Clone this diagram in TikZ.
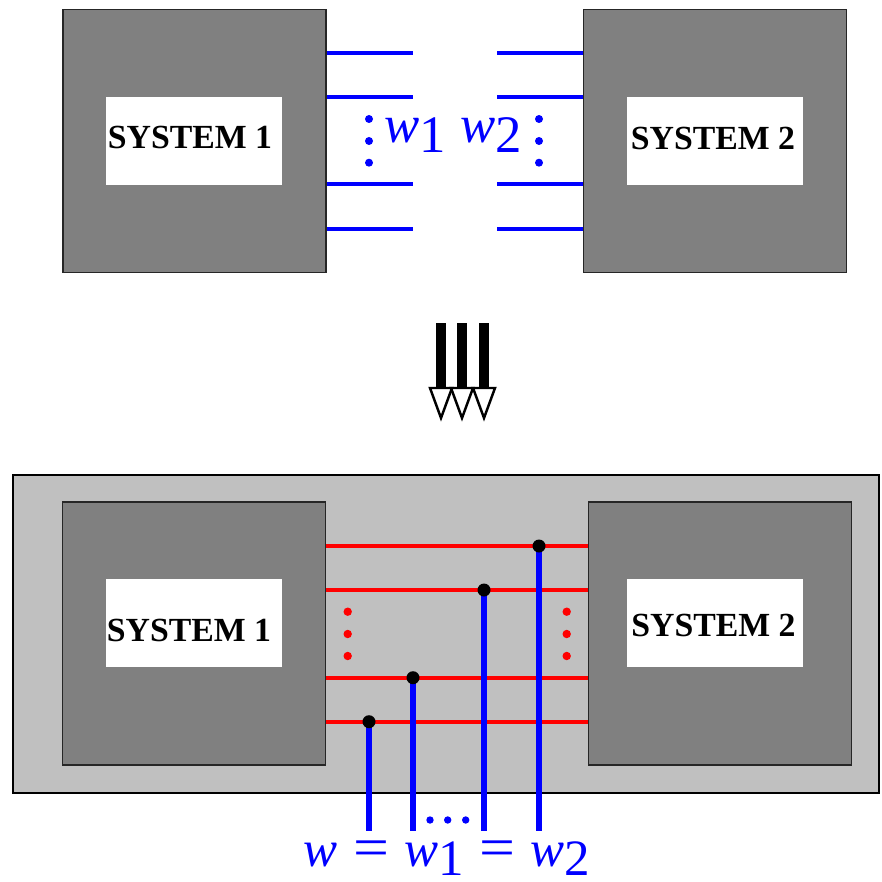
\documentclass[tikz,border=0pt]{standalone}
\usepackage{fontspec}
\setmainfont{Liberation Serif}
\usetikzlibrary{positioning,calc}
\definecolor{boxgray}{HTML}{808080}
\definecolor{panelgray}{HTML}{C0C0C0}
\definecolor{wireblue}{HTML}{0000FF}
\definecolor{wirered}{HTML}{FF0000}
\newcommand{\wsub}[1]{\textit{w}\raisebox{-0.4ex}{#1}}
\newcommand{\eqsign}{\hspace{0.3em}\scalebox{1.25}[1.1]{=}\hspace{0.3em}}
\tikzset{
  sysbox/.style={
    draw=black!85,
    fill=boxgray,
    line width=0.45pt,
    minimum width=2.63cm,
    minimum height=2.63cm,
    inner sep=0pt
  },
  namebox/.style={
    fill=white,
    minimum width=1.76cm,
    minimum height=0.877cm,
    inner sep=0pt
  },
  nametext/.style={inner sep=0pt, font=\fontsize{9.6}{11}\selectfont\bfseries},
  panel/.style={draw=black, fill=panelgray, line width=0.6pt},
  bluewire/.style={draw=wireblue, line width=1.15pt},
  redwire/.style={draw=wirered, line width=1.15pt},
  bluetap/.style={draw=wireblue, line width=1.85pt},
  wlabel/.style={text=wireblue, inner sep=0pt, anchor=base},
  bigarrow/.style={fill=black},
  arrowhead/.style={draw=black, fill=white, line width=0.7pt, line join=miter}
}
\begin{document}
\begin{tikzpicture}[x=0.01cm, y=-0.01cm]
\useasboundingbox (0,0) rectangle (881,882);
% top: two separate systems
\node[sysbox] (sysA) at (194.5,141) {};
\node[namebox] (boxA) at (194,141) {};
\node[nametext] (nameA) at (190,137.5) {SYSTEM 1};
\node[sysbox] (sysB) at (715,141) {};
\node[namebox] (boxB) at (715,141) {};
\node[nametext] (nameB) at (713,138) {SYSTEM 2};
\foreach \yy [count=\i] in {53.3,97,184.3,228.7} {
  \coordinate (la\i) at (413,\yy);
  \coordinate (rb\i) at (497,\yy);
  \draw[bluewire] (sysA.east |- la\i) -- (la\i);
  \draw[bluewire] (rb\i) -- (sysB.west |- rb\i);
}
\foreach \yy in {119,141,162.7} {
  \fill[wireblue] (369,\yy) circle[radius=0.04cm];
  \fill[wireblue] (539,\yy) circle[radius=0.04cm];
}
\node[wlabel] (wA) at (415.5,143) {\fontsize{15}{17}\selectfont\wsub{1}};
\node[wlabel] (wB) at (491,143) {\fontsize{15}{17}\selectfont\wsub{2}};
% interconnection arrow
\foreach \xx in {441,462,484} {
  \fill[bigarrow] ({\xx-5},323) rectangle ({\xx+5},388);
  \draw[arrowhead] ({\xx-11},388) -- ({\xx+11},388) -- (\xx,418) -- cycle;
}
% bottom: interconnected system
\draw[panel] (13,475) rectangle (879,792.7);
\node[sysbox] (sysC) at (194,633.7) {};
\node[namebox] (boxC) at (194,622.9) {};
\node[nametext] (nameC) at (189,630.7) {SYSTEM 1};
\node[sysbox] (sysD) at (720,633.7) {};
\node[namebox] (boxD) at (714.9,622.9) {};
\node[nametext] (nameD) at (713.5,625.3) {SYSTEM 2};
\foreach \yy [count=\i] in {546,590,677.7,721.7} {
  \coordinate (rw\i) at (0,\yy);
  \draw[redwire] (sysC.east |- rw\i) -- (sysD.west |- rw\i);
}
\foreach \yy in {611.7,634,656} {
  \fill[wirered] (347.7,\yy) circle[radius=0.042cm];
  \fill[wirered] (566.7,\yy) circle[radius=0.042cm];
}
\foreach \xx/\k in {369/4,413/3,484/2,539/1} {
  \coordinate (tap\k) at (\xx,0);
  \coordinate (foot\k) at (\xx,830.7);
  \draw[bluetap] (foot\k) -- (tap\k |- rw\k);
  \fill (tap\k |- rw\k) circle[radius=0.065cm];
}
\foreach \xx in {430,447.7,465.7}
  \fill[wireblue] (\xx,820) circle[radius=0.037cm];
\node[wlabel] (wAll) at (447,866) {\fontsize{14.5}{16}\selectfont\textit{w}\eqsign\wsub{1}\eqsign\wsub{2}};
\end{tikzpicture}
\end{document}
